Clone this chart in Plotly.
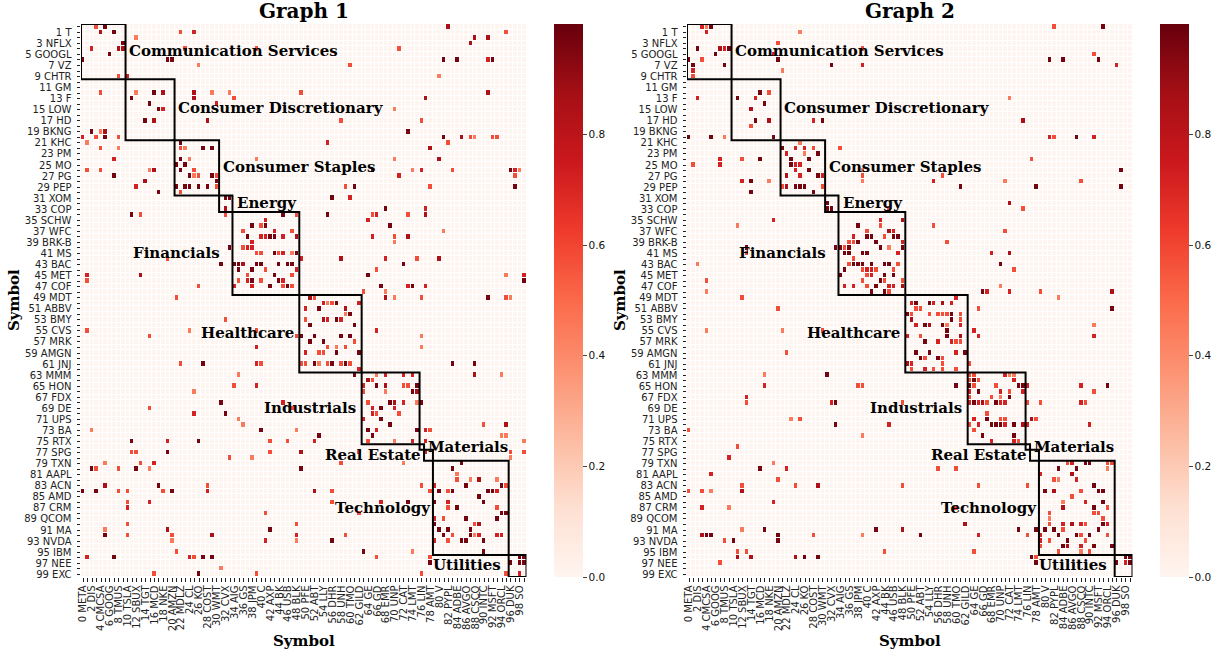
import plotly.graph_objects as go

D, C, R, O, L = 0.97, 0.85, 0.72, 0.58, 0.45

X_SYMBOLS = "META DIS CMCSA GOOG TMUS TSLA SBUX TGT MCD NKE AMZN MDLZ CL KO COST WMT CVX AIG GS JPM C AXP BK USB BLK PFE ABT LLY DHR UNH TMO GILD GE GD EMR UNP CAT LMT LIN AMT V PYPL ADBE AVGO CSCO INTC MSFT ORCL DUK SO".split()
Y_SYMBOLS = "T NFLX GOOGL VZ CHTR GM F LOW HD BKNG KHC PM MO PG PEP XOM COP SCHW WFC BRK-B MS BAC MET COF MDT ABBV BMY CVS MRK AMGN JNJ MMM HON FDX DE UPS BA RTX SPG TXN AAPL ACN AMD CRM QCOM MA NVDA IBM NEE EXC".split()

SECTOR_NAMES = ["Communication Services", "Consumer Discretionary", "Consumer Staples", "Energy", "Financials",
                "Healthcare", "Industrials", "Materials", "Real Estate", "Technology", "Utilities"]
SECTOR_SIZES = [10, 11, 10, 3, 15, 14, 13, 1, 2, 17, 4]

GRAPH1 = {
0:[(3,O),(5,D),(82,C)], 1:[(4,C),(7,D),(22,O),(25,R),(95,O)], 2:[(12,L),(88,C),(91,C)], 3:[(9,D),(87,C)],
4:[(2,R),(8,C),(9,C),(23,O),(39,O),(71,O)], 5:[(6,D)], 6:[(0,D),(19,D),(20,D),(81,D),(84,D),(91,R),(92,D)],
7:[(26,L),(60,O)], 9:[(8,O),(10,R),(80,L)],
12:[(4,O),(12,L),(16,D),(18,C),(25,C),(29,L),(33,L),(49,O),(91,C)], 13:[(11,D),(25,C),(34,O),(77,C)],
14:[(15,D),(30,R)], 15:[(17,D),(18,R),(70,L)], 17:[(14,D),(16,C),(28,C),(58,O),(76,O)],
19:[(2,D),(4,L),(5,C),(73,D)], 20:[(0,R),(3,O),(5,D),(8,O),(81,D),(85,C),(87,O),(88,L),(92,O),(93,O)],
21:[(1,L),(22,D),(55,R),(82,O)], 22:[(4,O),(8,L),(22,O),(23,L),(27,D),(29,D),(78,C)],
24:[(7,R),(22,D),(24,L),(39,L),(70,L),(80,C)], 25:[(21,D),(23,D)],
26:[(1,O),(4,O),(15,L),(16,C),(22,D),(25,O),(65,D),(74,L),(76,R),(83,O),(96,D),(97,R),(98,L)],
27:[(7,D),(24,D),(25,L),(26,O),(29,D),(30,O),(71,R),(97,O)], 28:[(14,C),(30,D)],
29:[(12,R),(21,D),(23,D),(24,D),(26,D),(28,D),(30,O),(59,O),(61,D),(78,O),(97,D)], 30:[(17,D),(22,O)],
31:[(32,D),(33,D),(56,D),(60,R)], 33:[(32,C),(68,D),(77,R)],
34:[(11,D),(13,O),(32,O),(45,D),(48,O),(55,D),(65,O),(66,R),(73,O),(77,C)], 35:[(41,R),(64,R)],
36:[(38,D),(40,O),(41,D),(69,D)], 37:[(36,O),(43,R),(47,O),(81,L)],
38:[(37,D),(40,R),(41,R),(42,D),(43,D),(45,R),(48,C),(65,R),(70,O),(73,C)], 39:[(38,R),(70,L)],
40:[(33,D),(36,O),(37,R),(38,R)], 41:[(39,O),(40,O),(43,D),(44,O),(45,R),(47,L),(48,D)],
42:[(19,O),(49,R),(58,C),(68,R),(75,O),(80,C)],
43:[(31,D),(34,D),(35,D),(36,C),(39,D),(40,D),(44,D),(46,D),(47,D),(72,D)], 44:[(35,D),(38,D),(41,O),(48,R),(66,O)],
45:[(1,R),(13,C),(37,O),(43,D),(47,O),(64,D),(95,L),(99,R)], 46:[(1,O),(35,O),(37,R),(38,D),(40,O),(44,D),(45,R),(99,D)],
47:[(26,O),(34,R),(38,R),(42,D),(45,O),(46,D),(47,O),(67,D),(73,R),(74,D),(77,R)], 48:[(63,O),(68,L)],
49:[(21,O),(51,C),(52,O),(68,C),(70,L),(76,O),(91,D),(95,O),(96,L)], 50:[(54,R),(55,L),(56,O),(57,D),(62,R)],
51:[(50,R),(53,D),(59,C)], 52:[(59,L),(60,D)], 53:[(32,O),(50,O),(54,C),(55,R),(57,D),(58,R)], 54:[(51,D),(61,D)],
55:[(1,O),(24,L),(39,O),(66,R)], 56:[(15,O),(48,O),(49,D),(52,D),(58,D),(60,D),(76,L)], 57:[(51,D),(54,D),(61,O)],
58:[(39,R),(55,O),(57,L),(59,O),(76,L)], 59:[(50,R),(53,O),(54,O),(57,D),(62,D)],
61:[(22,O),(27,D),(39,R),(40,O),(49,O),(50,O),(52,D),(53,L),(55,O),(56,D),(58,O),(59,D),(60,O),(83,D),(88,D)],
62:[(62,R)], 63:[(35,L),(61,D),(66,L),(68,R),(72,R),(74,R),(88,C),(94,L)], 64:[(64,C),(65,O)],
65:[(34,O),(39,R),(63,R),(66,D),(68,C),(72,O),(73,O),(75,D)], 66:[(25,L),(63,O),(68,L),(74,D),(75,C)],
68:[(31,D),(45,R),(64,O),(69,D),(70,C),(72,R),(75,L),(76,D)], 69:[(15,O),(47,O),(65,R),(67,D),(70,R)],
70:[(25,R),(32,D),(65,R),(66,O),(71,O)], 71:[(35,L),(63,R),(67,D)], 72:[(36,L),(69,D),(90,O),(95,C)],
73:[(2,L),(40,D),(48,L),(64,D),(66,R),(75,D),(77,R),(78,O)], 74:[(53,D),(65,D),(94,L),(95,L)],
75:[(11,D),(19,R),(26,D),(42,O),(46,O),(52,R),(64,O),(70,L),(74,R),(77,R),(99,L)],
77:[(11,O),(12,O),(19,D),(42,O),(49,C),(62,O),(77,R),(96,O),(99,O)], 78:[(33,O),(38,L),(96,L)],
79:[(5,L),(13,O),(16,R),(58,O),(72,L),(85,D)], 80:[(2,D),(3,O),(8,O),(12,D),(15,L),(49,D),(83,D)], 81:[(84,L)],
82:[(84,O),(87,L),(89,C),(93,L)], 83:[(5,C),(17,D),(28,O),(76,O),(79,R),(86,D),(94,D),(95,O)],
84:[(0,D),(3,D),(8,O),(10,O),(18,O),(20,D),(28,R),(52,C),(56,O),(78,O),(80,D),(82,O),(83,D),(91,D),(92,D),(93,R)],
85:[(89,D)], 86:[(10,O),(15,R),(56,O),(67,R),(73,D),(79,D),(82,R),(90,D)], 87:[(10,R),(82,O),(84,D),(93,O)],
88:[(41,O),(62,O),(94,D),(95,D)], 89:[(79,R),(81,O),(86,D),(93,D)], 90:[(10,O),(48,O),(79,D),(88,O),(89,C)],
91:[(5,L),(19,C),(42,D),(80,D),(82,D),(87,D)],
92:[(5,D),(10,O),(20,O),(29,C),(48,R),(59,O),(81,D),(83,O),(87,D),(88,L),(89,R),(93,R),(94,R)],
93:[(20,L),(41,R),(48,L),(56,D),(79,R),(82,O),(85,D),(86,D),(90,D)], 95:[(21,O),(63,D),(74,L),(90,D)],
96:[(1,R),(7,D),(24,R),(25,O),(27,D),(29,D),(66,O),(78,O),(98,D),(99,D)], 97:[(78,D),(96,D),(98,D),(99,D)],
98:[(31,L)], 99:[(16,O),(26,D),(39,O),(76,O),(95,O),(98,R)],
}

GRAPH2 = {
0:[(3,R),(4,L),(5,D),(82,O),(93,D)], 1:[(4,R),(25,L)], 3:[(20,O)], 4:[(2,D),(7,C),(8,R),(9,D),(39,O)],
5:[(6,D),(19,R),(91,O)], 6:[(0,D),(3,O),(20,D),(81,D),(84,D),(92,D)], 7:[(1,D),(8,D),(32,D),(39,R),(96,R)],
8:[(1,R),(21,L)], 9:[(1,O)], 12:[(16,D),(18,O)], 13:[(2,R),(11,D),(15,R),(72,L)], 14:[(17,D)], 15:[(14,C)],
17:[(15,D),(18,C),(28,R),(30,D),(75,C)], 18:[(14,O)], 20:[(0,D),(5,D),(8,L),(19,D),(81,R),(82,O),(87,D),(91,R)],
21:[(25,L)], 22:[(21,D),(24,R),(26,R),(28,O),(34,O)], 23:[(22,R),(26,L),(29,D)],
24:[(7,R),(12,O),(16,D),(23,D),(27,D),(77,O)], 25:[(1,O),(7,R),(23,D),(24,R),(25,R)], 26:[(24,R),(27,D),(39,L),(97,D)],
27:[(22,C),(25,R),(29,D),(30,R),(39,O),(57,O)], 28:[(12,R),(14,D),(18,L),(39,L),(55,R),(71,L),(88,O)],
29:[(21,O),(22,C),(24,D),(25,D),(26,D),(30,O),(61,D),(78,D),(97,D)], 30:[(14,D),(28,D)], 32:[(31,D),(72,C)],
33:[(31,D),(32,D),(45,O),(75,O)], 35:[(19,R),(43,R),(48,C)], 36:[(11,L),(38,D),(43,O),(55,O)], 37:[(40,O),(45,C),(46,R),(71,O)],
38:[(37,R),(40,D),(41,D),(44,O),(46,D),(47,D)], 39:[(36,O),(37,O),(38,D),(42,D),(48,R),(58,O)],
40:[(13,D),(33,D),(34,D),(35,O),(36,D),(43,D),(45,L),(48,D)], 41:[(13,O),(35,D),(36,D),(39,D),(40,D),(47,R),(68,R),(72,C)],
42:[(37,O)], 43:[(2,L),(36,O),(37,D),(38,D),(39,D),(41,D),(44,D),(45,D),(47,O),(70,D)],
44:[(35,D),(39,O),(40,R),(41,R),(42,O),(46,O),(73,O)], 45:[(34,D),(40,O),(41,R),(44,D),(46,D)], 46:[(4,O),(39,O),(43,D),(44,O),(48,O)],
47:[(35,R),(37,R),(40,O),(42,D),(45,R),(46,R),(48,C),(70,L)], 48:[(4,L),(41,D),(44,D),(45,O),(66,D),(67,R),(72,R),(79,O),(95,C)],
49:[(12,O),(60,R),(83,L)], 50:[(50,R),(51,D),(54,D),(55,R),(57,C),(59,R)], 51:[(20,O),(51,O),(52,O),(65,O),(95,D)],
52:[(49,D),(50,O),(54,O),(56,O),(57,O),(58,O),(59,D),(61,O)], 53:[(50,C),(59,D),(61,O)], 54:[(51,R),(53,D),(54,C),(57,D),(58,L),(61,R),(91,L)],
55:[(4,L),(21,L),(30,O),(58,D),(64,R)], 56:[(49,R),(52,O),(58,D),(61,C),(65,R),(91,R)], 57:[(53,D),(56,R),(59,R),(60,O),(61,O)],
59:[(22,O),(51,D),(54,D),(60,R),(62,D)], 60:[(52,D),(53,O),(56,D),(57,O)], 61:[(49,C),(50,R),(57,O),(63,O)],
62:[(50,O),(53,R),(55,O),(57,O),(60,O)], 63:[(17,L),(31,D),(63,O),(64,O),(71,R),(72,L),(73,L)], 64:[(63,O),(64,D),(65,O),(73,R)],
65:[(17,R),(38,O),(39,O),(60,D),(63,D),(64,O),(69,O),(74,D),(75,D),(76,R),(88,R),(94,D)], 66:[(63,R),(65,D),(70,R),(72,O),(75,R),(91,O)],
67:[(13,R),(63,O),(68,O),(70,L),(72,D)], 68:[(13,O),(32,R),(33,D),(48,O),(63,R),(64,D),(65,R),(66,C),(67,O),(69,D),(70,R),(71,R),(76,O),(79,O),(88,R),(89,O)],
70:[(67,O)], 71:[(23,L),(25,O),(64,R),(67,D),(70,O),(71,O),(77,C),(78,O)],
72:[(33,D),(45,R),(63,O),(65,R),(68,D),(69,D),(70,D),(71,R),(73,D),(75,C),(76,R),(90,R)], 73:[(0,O),(64,O)], 74:[(39,L),(66,D),(73,D)],
75:[(68,R),(73,R),(74,O)], 76:[(11,O)], 78:[(9,R)], 79:[(19,L),(85,O),(86,R),(89,D),(90,D),(94,O),(95,O)],
80:[(16,D),(22,R),(56,O),(60,O),(83,D),(87,D),(94,L)], 81:[(5,R),(79,R),(86,C)], 82:[(20,O),(82,O),(83,L),(87,R)],
83:[(12,O),(24,O),(29,C),(48,O),(65,O),(76,O),(91,D)], 84:[(0,O),(3,O),(5,L),(12,C),(80,D),(82,C),(88,O),(92,D),(93,D)],
85:[(86,O)], 86:[(19,R),(84,L),(89,R),(93,D)], 87:[(3,R),(9,L),(60,O),(84,C),(91,D),(94,O)], 88:[(81,O),(91,O),(92,O)], 89:[(81,L),(93,O)],
90:[(62,C),(81,O),(84,R),(86,C),(88,R),(89,O),(93,D),(94,R)], 91:[(12,L),(17,D),(42,D),(48,C),(74,D),(78,D),(80,D),(82,D),(84,O),(92,D)],
92:[(3,C),(4,D),(5,D),(20,D),(28,O),(39,L),(52,D),(65,R),(76,O),(79,R),(83,D),(87,D),(88,O),(90,D),(94,O)],
93:[(8,O),(10,D),(20,D),(79,R),(81,O),(85,D),(89,O)], 94:[(79,O),(84,D),(85,C),(88,R),(91,D),(95,D)],
95:[(11,O),(13,O),(44,O),(64,O),(83,O),(88,L),(90,O)], 96:[(11,C),(14,C),(24,C),(26,D),(29,D),(77,D),(78,O),(98,D),(99,D)],
97:[(7,O),(78,D),(96,D),(98,R),(99,D)],
}

REDS = [[0, "#fff5f0"], [0.125, "#fee0d2"], [0.25, "#fcbba1"], [0.375, "#fc9272"], [0.5, "#fb6a4a"],
        [0.625, "#ef3b2c"], [0.75, "#cb181d"], [0.875, "#a50f15"], [1, "#67000d"]]

W, H = 1225, 655
ML, MB = 8, 8          # fixed margins, wide enough that the colorbars do not push the plot area
TOP, BOTTOM = 24, 577
PANELS = [(81, 526.5, 554), (687, 1132.5, 1160)]
SERIF = "DejaVu Serif"
SANS = "DejaVu Sans"


def px(x):
    return (x - ML) / (W - ML)


def py(y):
    return 1 - y / (H - MB)


# label placement: (anchor, column position, row position) in cell units
LABEL_POS = [("left", 9.85, 4.4), ("left", 20.85, 14.7), ("left", 30.85, 25.4), ("left", 34.15, 31.8), ("right", 31.2, 40.9),
             ("right", 47.8, 55.4), ("right", 61.6, 68.9), ("left", 76.9, 76.0), ("right", 76.2, 77.4),
             ("right", 78.5, 87.0), ("left", 78.0, 97.4)]


def matrix(cells):
    z = [[0.0] * 100 for _ in range(100)]
    for row, pairs in cells.items():
        for col, val in pairs:
            z[row][col] = val
    return z


x_text = [f"{i} {X_SYMBOLS[i // 2]}" if i % 2 == 0 else "" for i in range(100)]
y_text = [f"{i} {Y_SYMBOLS[i // 2]}" if i % 2 == 1 else "" for i in range(100)]

fig = go.Figure()
annotations, shapes = [], []
for k, (cells, (left, right, cb_left)) in enumerate(zip((GRAPH1, GRAPH2), PANELS)):
    suf = "" if k == 0 else "2"
    fig.add_trace(go.Heatmap(
        z=matrix(cells), x=list(range(100)), y=list(range(100)), xaxis=f"x{suf}", yaxis=f"y{suf}",
        colorscale=REDS, zmin=0, zmax=1, xgap=1, ygap=1, hoverinfo="skip",
        colorbar=dict(x=px(cb_left), xanchor="left", thickness=29, thicknessmode="pixels",
                      y=py(BOTTOM), yanchor="bottom", len=py(TOP) - py(BOTTOM), lenmode="fraction",
                      xpad=0, ypad=0, outlinewidth=0, ticks="outside", ticklen=4, tickwidth=1,
                      tickvals=[0, 0.2, 0.4, 0.6, 0.8], ticktext=["0.0", "0.2", "0.4", "0.6", "0.8"],
                      tickfont=dict(family=SANS, size=10.5, color="#111"))))
    common = dict(showgrid=False, zeroline=False, showline=False, ticks="outside", ticklen=3.5, tickwidth=1,
                  tickcolor="#222", tickmode="array", tickfont=dict(family=SANS, size=10, color="#222"),
                  tickvals=list(range(100)))
    fig.update_layout({
        f"xaxis{suf}": dict(domain=[px(left), px(right)], range=[-0.5, 99.5], ticktext=x_text, tickangle=-90,
                            anchor=f"y{suf}", ticklabelstandoff=0, **common),
        f"yaxis{suf}": dict(domain=[py(BOTTOM), py(TOP)], range=[99.5, -0.5], ticktext=y_text,
                            anchor=f"x{suf}", ticklabelstandoff=3, **common),
    })
    mid = (left + right) / 2
    annotations.append(dict(text=f"<b>Graph {k + 1}</b>", x=px(mid), y=py(11), xref="paper", yref="paper",
                            xanchor="center", yanchor="middle", showarrow=False,
                            font=dict(family=SERIF, size=20, color="black")))
    annotations.append(dict(text="<b>Symbol</b>", x=px(mid), y=py(641), xref="paper", yref="paper",
                            xanchor="center", yanchor="middle", showarrow=False,
                            font=dict(family=SERIF, size=15, color="black")))
    annotations.append(dict(text="<b>Symbol</b>", x=px(left - 67), y=py(300), xref="paper", yref="paper",
                            xanchor="center", yanchor="middle", showarrow=False, textangle=-90,
                            font=dict(family=SERIF, size=15, color="black")))
    start = 0
    for name, size, (anchor, cx, cy) in zip(SECTOR_NAMES, SECTOR_SIZES, LABEL_POS):
        shapes.append(dict(type="rect", xref=f"x{suf}", yref=f"y{suf}", x0=start - 0.5, x1=start + size - 0.5,
                           y0=start - 0.5, y1=start + size - 0.5, line=dict(color="black", width=2)))
        annotations.append(dict(text=f"<b>{name}</b>", x=cx, y=cy, xref=f"x{suf}", yref=f"y{suf}",
                                xanchor=anchor, yanchor="middle", showarrow=False,
                                font=dict(family=SERIF, size=15, color="black")))
        start += size

fig.update_layout(width=W, height=H, margin=dict(l=ML, r=0, t=0, b=MB), autosize=False,
                  paper_bgcolor="white", plot_bgcolor="white", showlegend=False,
                  annotations=annotations, shapes=shapes)
fig.write_html("out.html", config={"displayModeBar": False}, post_script="document.body.style.margin='0';")
